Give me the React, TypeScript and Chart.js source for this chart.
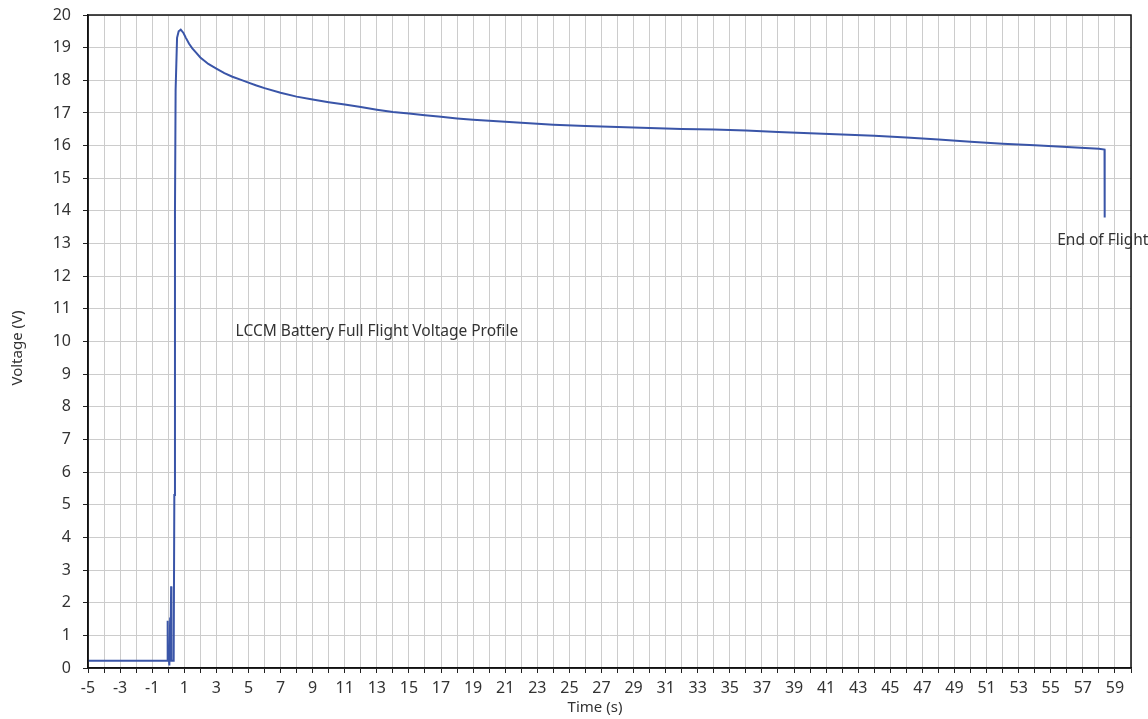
import React, { useEffect, useRef } from "react";
import { Chart, registerables } from "chart.js";

Chart.register(...registerables);

const timeSeconds: number[] = [
  -5, -0.05, -0.04, -0.03, 0.05, 0.07, 0.12, 0.14, 0.18, 0.2, 0.34, 0.38, 0.42, 0.46, 0.55,
  0.65, 0.78, 0.95, 1.1, 1.3, 1.5, 1.75, 2, 2.5, 3, 3.5, 4, 4.5, 5, 5.5, 6, 7, 8, 9, 10, 11,
  12, 13, 14, 15, 16, 17, 18, 19, 20, 22, 24, 26, 28, 30, 32, 34, 36, 38, 40, 42, 44, 46,
  48, 50, 52, 54, 56, 58, 58.35, 58.36,
];
const voltage: number[] = [
  0.22, 0.22, 1.45, 0.22, 0.22, 0.08, 1.55, 0.22, 2.5, 0.22, 0.22, 5.3, 14.0, 17.7, 19.3,
  19.5, 19.55, 19.45, 19.3, 19.12, 18.98, 18.84, 18.7, 18.5, 18.36, 18.22, 18.11, 18.02,
  17.93, 17.84, 17.76, 17.62, 17.5, 17.41, 17.33, 17.26, 17.18, 17.1, 17.03, 16.98, 16.93,
  16.88, 16.83, 16.79, 16.76, 16.7, 16.64, 16.6, 16.57, 16.54, 16.51, 16.49, 16.46, 16.42,
  16.38, 16.34, 16.3, 16.25, 16.19, 16.12, 16.06, 16.01, 15.96, 15.9, 15.88, 13.8,
];

const xMin = -5;
const xMax = 60;
const yMin = 0;
const yMax = 20;

const chartLabel = "LCCM Battery Full Flight Voltage Profile";
const endLabel = "End of Flight";
const xTitle = "Time (s)";
const yTitle = "Voltage (V)";

const FONT = "'Noto Sans', 'DejaVu Sans', sans-serif";
const TEXT = "#333333";

export default function App() {
  const ref = useRef<HTMLCanvasElement | null>(null);

  useEffect(() => {
    if (!ref.current) return;
    const data = timeSeconds.map((t, i) => ({ x: t, y: voltage[i] }));

    const overlay = {
      id: "overlay",
      afterDraw(chart: any) {
        const { ctx, chartArea, scales } = chart;
        const xs = scales.x;
        const ys = scales.y;
        ctx.save();
        ctx.strokeStyle = "#111";
        ctx.lineWidth = 1.5;
        ctx.strokeRect(chartArea.left, chartArea.top, chartArea.right - chartArea.left, chartArea.bottom - chartArea.top);
        ctx.fillStyle = TEXT;
        ctx.font = `15.5px ${FONT}`;
        ctx.textBaseline = "middle";
        ctx.textAlign = "left";
        ctx.fillText(chartLabel, xs.getPixelForValue(4.2), ys.getPixelForValue(10.3));
        ctx.fillText(endLabel, xs.getPixelForValue(55.4), ys.getPixelForValue(13.1));
        ctx.font = `15px ${FONT}`;
        ctx.textAlign = "center";
        ctx.fillText(xTitle, 595, 708);
        ctx.translate(18, 348);
        ctx.rotate(-Math.PI / 2);
        ctx.fillText(yTitle, 0, 0);
        ctx.restore();
      },
    };

    const chart = new Chart(ref.current, {
      type: "line",
      data: {
        datasets: [
          {
            data,
            borderColor: "#3a55a8",
            borderWidth: 2,
            pointRadius: 0,
            tension: 0,
            fill: false,
          },
        ],
      },
      options: {
        animation: false,
        responsive: false,
        maintainAspectRatio: false,
        layout: { padding: { top: 15, right: 17, left: 0, bottom: 0 } },
        plugins: { legend: { display: false }, tooltip: { enabled: false } },
        scales: {
          x: {
            type: "linear",
            min: xMin,
            max: xMax,
            afterFit(scale: any) {
              scale.height = 51;
              scale.paddingLeft = 0;
              scale.paddingRight = 0;
            },
            ticks: {
              stepSize: 1,
              autoSkip: false,
              maxRotation: 0,
              padding: 6,
              color: TEXT,
              font: { family: FONT, size: 16 },
              callback: (v: any) => (Math.abs(Number(v)) % 2 === 1 ? String(v) : ""),
            },
            grid: { color: "#cccccc", lineWidth: 1, tickLength: 5, tickColor: "#222" },
            border: { color: "#111", width: 1.5 },
          },
          y: {
            type: "linear",
            min: yMin,
            max: yMax,
            afterFit(scale: any) {
              scale.width = 88;
              scale.paddingTop = 0;
              scale.paddingBottom = 0;
            },
            ticks: {
              stepSize: 1,
              padding: 12,
              color: TEXT,
              font: { family: FONT, size: 16 },
            },
            grid: { color: "#cccccc", lineWidth: 1, tickLength: 5, tickColor: "#222" },
            border: { color: "#111", width: 1.5 },
          },
        },
      },
      plugins: [overlay],
    });
    return () => chart.destroy();
  }, []);

  return (
    <div style={{ position: "fixed", left: 0, top: 0, width: 1148, height: 719, background: "#fff" }}>
      <canvas ref={ref} width={1148} height={719} style={{ display: "block" }} />
    </div>
  );
}
